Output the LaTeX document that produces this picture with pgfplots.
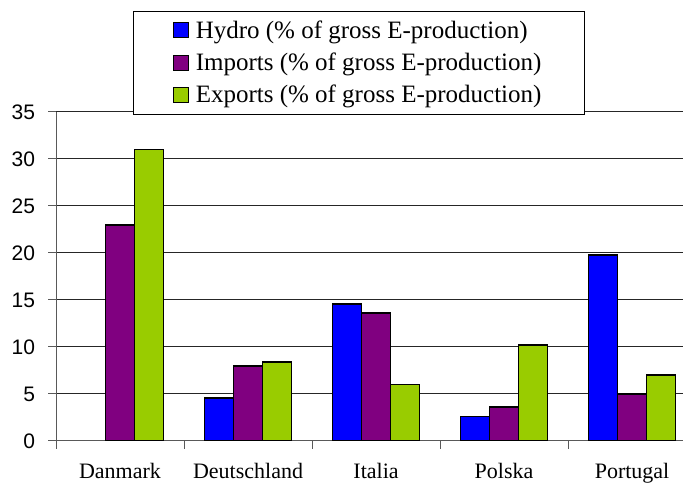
\documentclass[border=0pt]{standalone}
\usepackage{fontspec}
\setmainfont{Liberation Serif}
\newfontfamily\sansfont{Liberation Sans}
\usepackage{pgfplots}
\pgfplotsset{compat=1.18}
\definecolor{cblue}{RGB}{0,0,255}
\definecolor{cpurple}{RGB}{128,0,128}
\definecolor{cgreen}{RGB}{153,204,0}
\begin{document}
\begin{tikzpicture}
\begin{axis}[
  at={(28pt,22pt)}, anchor=south west,
  scale only axis, width=313.5pt, height=164.5pt,
  xmin=-0.5, xmax=4.398, ymin=0, ymax=35,
  ybar=0pt, bar width=14.5pt,
  axis x line*=bottom, axis y line*=left,
  xtick={0,...,4},
  xticklabels={Danmark,Deutschland,Italia,Polska,Portugal},
  minor xtick={-0.5,0.5,1.5,2.5,3.5},
  ytick={0,5,...,35},
  ymajorgrids,
  grid style={black!85, line width=0.5pt},
  tick align=outside, major tick length=4pt, minor tick length=4pt,
  tick style={black!65, line width=0.5pt},
  major x tick style={draw=none},
  axis line style={black!65, line width=0.5pt},
  /pgf/number format/assume math mode=true,
  yticklabel style={font=\sansfont\fontsize{10.5}{12}\selectfont, xshift=-3pt},
  xticklabel style={font=\fontsize{11}{13}\selectfont, yshift=-3.5pt},
  every axis plot/.append style={draw=black, line width=0.75pt},
  legend image code/.code={\draw[#1, line width=0.5pt] (0pt,-3.5pt) rectangle (7.5pt,4pt); \path (9pt,0pt);},
  legend cell align=left,
  legend style={at={(0,1)}, anchor=north west, xshift=38.5pt, yshift=50.5pt,
    draw=black, line width=0.5pt, fill=white,
    font=\fontsize{12.5}{14}\selectfont,
    inner xsep=19.5pt, inner ysep=2.5pt, row sep=1.8pt},
]
\addplot[fill=cblue] coordinates {(1,4.6) (2,14.6) (3,2.6) (4,19.8)};
\addplot[fill=cpurple] coordinates {(0,23.0) (1,8.0) (2,13.6) (3,3.6) (4,5.0)};
\addplot[fill=cgreen] coordinates {(0,31.0) (1,8.4) (2,6.0) (3,10.2) (4,7.0)};
\legend{Hydro (\% of gross E-production),Imports (\% of gross E-production),Exports (\% of gross E-production)}
\end{axis}
\pgfresetboundingbox
\path (0,0) rectangle (341.5pt,242.5pt);
\end{tikzpicture}
\end{document}
